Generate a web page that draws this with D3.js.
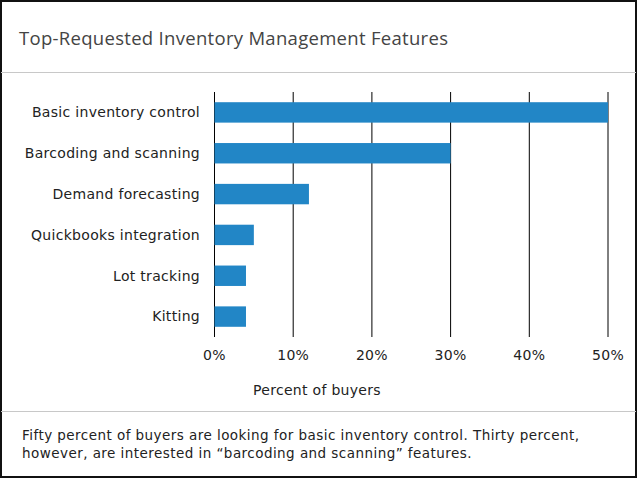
<!DOCTYPE html>
<html>
<head>
<meta charset="utf-8">
<script src="https://cdn.jsdelivr.net/npm/d3@7"></script>
<style>
  body { margin: 0; background: #fff; }
  svg { display: block; }
</style>
</head>
<body>
<svg></svg>
<script>
const categories = ["Basic inventory control", "Barcoding and scanning", "Demand forecasting",
  "Quickbooks integration", "Lot tracking", "Kitting"]
const percents = [50, 30, 12, 5, 4, 4]
const ticks = [0, 10, 20, 30, 40, 50]
const title = "Top-Requested Inventory Management Features"
const axisTitle = "Percent of buyers"
const note = ["Fifty percent of buyers are looking for basic inventory control. Thirty percent,",
  "however, are interested in \u201cbarcoding and scanning\u201d features."]

var W = 638, H = 479
var FONT = "'DejaVu Sans', Verdana, sans-serif"
var svg = d3.select("svg")
    .attr("width", W)
    .attr("height", H)

// frame + separators
svg.append("rect")
    .attr("x", 1).attr("y", 1)
    .attr("width", W - 3).attr("height", H - 3)
    .attr("fill", "#fff")
    .attr("stroke", "#111")
    .attr("stroke-width", 2)

svg.append("line")
    .attr("x1", 1).attr("x2", W - 2)
    .attr("y1", 72.5).attr("y2", 72.5)
    .attr("stroke", "#c8c8c8")
svg.append("line")
    .attr("x1", 1).attr("x2", W - 2)
    .attr("y1", 411.5).attr("y2", 411.5)
    .attr("stroke", "#c8c8c8")

svg.append("text")
    .attr("x", 19).attr("y", 45)
    .attr("font-family", "'Open Sans', sans-serif")
    .attr("font-size", 18.5)
    .attr("letter-spacing", 0.3)
    .attr("fill", "#444")
    .text(title)

var x = d3.scaleLinear()
    .domain([0, 50])
    .range([214, 607.5])

var y = d3.scaleBand()
    .domain(categories)
    .range([92, 337])
    .paddingInner(0.5)
    .paddingOuter(0.25)

// vertical grid / ticks
svg.append("g")
    .attr("transform", "translate(0,337)")
    .call(d3.axisBottom(x).tickValues(ticks).tickSize(-245).tickPadding(13)
        .tickFormat(d => d + "%"))
    .call(g => g.select(".domain").remove())
    .call(g => g.selectAll(".tick line").attr("stroke", "#000"))
    .call(g => g.selectAll(".tick text")
        .attr("font-family", FONT)
        .attr("font-size", 14)
        .attr("letter-spacing", 0.3)
        .attr("fill", "#222"))

svg.append("g")
    .selectAll("rect")
    .data(percents)
    .enter()
    .append("rect")
    .attr("x", x(0) + 0.5)
    .attr("y", (d, i) => y(categories[i]))
    .attr("width", d => x(d) - x(0))
    .attr("height", y.bandwidth())
    .attr("fill", "#2286c6")

svg.append("g")
    .selectAll("text")
    .data(categories)
    .enter()
    .append("text")
    .attr("x", 200)
    .attr("y", d => y(d) + y.bandwidth() / 2)
    .attr("dy", "0.35em")
    .attr("text-anchor", "end")
    .attr("font-family", FONT)
    .attr("font-size", 14)
    .attr("letter-spacing", 0.3)
    .attr("fill", "#222")
    .text(d => d)

svg.append("text")
    .attr("x", 317).attr("y", 395)
    .attr("text-anchor", "middle")
    .attr("font-family", FONT)
    .attr("font-size", 14)
    .attr("letter-spacing", 0.3)
    .attr("fill", "#222")
    .text(axisTitle)

svg.append("g")
    .selectAll("text")
    .data(note)
    .enter()
    .append("text")
    .attr("x", 22)
    .attr("y", (d, i) => 440 + i * 18)
    .attr("font-family", FONT)
    .attr("font-size", 13.5)
    .attr("letter-spacing", 0.45)
    .attr("fill", "#222")
    .text(d => d)
</script>
</body>
</html>
